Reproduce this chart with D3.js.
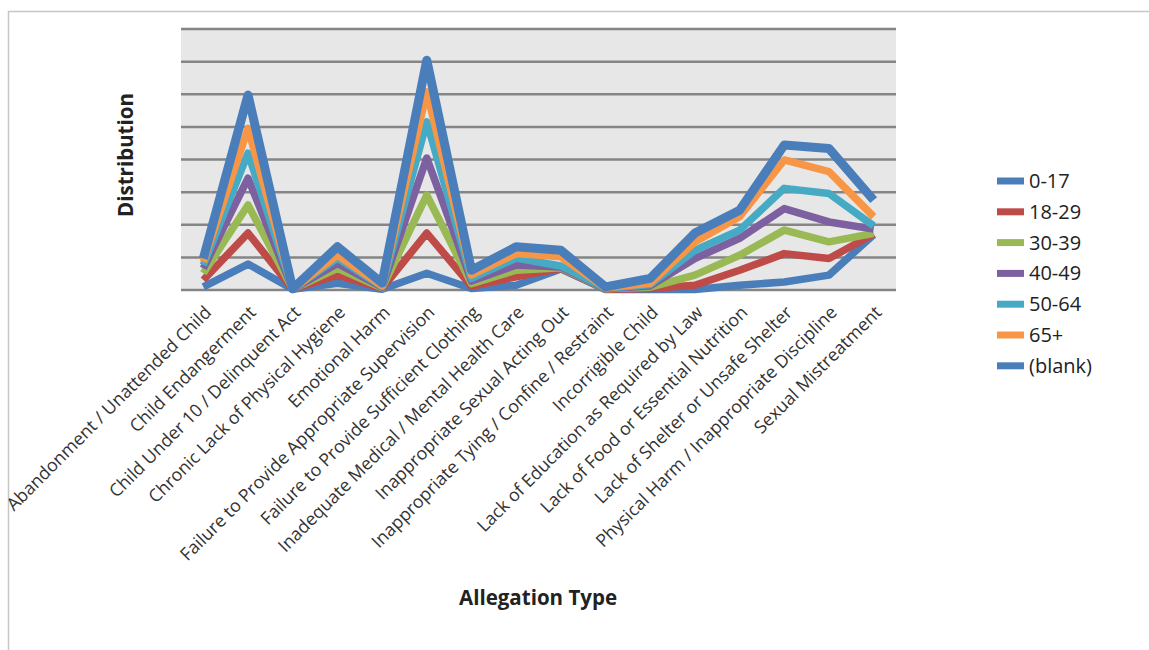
<!DOCTYPE html>
<html>
<head>
<meta charset="utf-8">
<script src="https://cdn.jsdelivr.net/npm/d3@7"></script>
<style>
  body { margin: 0; background: #fff; }
  svg { display: block; font-family: "Open Sans", sans-serif; }
</style>
</head>
<body>
<script>
const W = 1149
const H = 650

// allegation types along the x axis
const categories = [
  'Abandonment / Unattended Child',
  'Child Endangerment',
  'Child Under 10  / Delinquent Act',
  'Chronic Lack of Physical Hygiene',
  'Emotional Harm',
  'Failure to Provide Appropriate Supervision',
  'Failure to Provide Sufficient Clothing',
  'Inadequate Medical / Mental Health Care',
  'Inappropriate Sexual Acting Out',
  'Inappropriate Tying / Confine / Restraint',
  'Incorrigible Child',
  'Lack of Education as Required by Law',
  'Lack of Food or Essential Nutrition',
  'Lack of Shelter or Unsafe Shelter',
  'Physical Harm / Inappropriate Discipline',
  'Sexual Mistreatment'
]

const ageGroups = ['0-17', '18-29', '30-39', '40-49', '50-64', '65+', '(blank)']

// one value per category, per age group (stacked)
const age0_17  = [0.08, 0.78, 0.01, 0.19, 0.01, 0.50, 0.03, 0.13, 0.63, 0.00, 0.00, 0.00, 0.13, 0.23, 0.44, 1.68]
const age18_29 = [0.21, 0.95, 0.00, 0.25, 0.02, 1.23, 0.07, 0.26, 0.02, 0.01, 0.03, 0.13, 0.46, 0.87, 0.51, 0.02]
const age30_39 = [0.21, 0.86, 0.00, 0.21, 0.02, 1.16, 0.08, 0.20, 0.02, 0.01, 0.04, 0.31, 0.46, 0.72, 0.51, 0.02]
const age40_49 = [0.15, 0.82, 0.00, 0.15, 0.02, 1.14, 0.08, 0.16, 0.02, 0.01, 0.04, 0.51, 0.52, 0.66, 0.61, 0.13]
const age50_64 = [0.10, 0.77, 0.00, 0.16, 0.02, 1.11, 0.08, 0.21, 0.03, 0.01, 0.04, 0.25, 0.25, 0.62, 0.87, 0.10]
const age65    = [0.10, 0.76, 0.00, 0.09, 0.02, 0.92, 0.11, 0.14, 0.28, 0.01, 0.04, 0.26, 0.41, 0.87, 0.67, 0.28]
const ageBlank = [0.10, 1.02, 0.01, 0.26, 0.09, 0.97, 0.14, 0.21, 0.20, 0.03, 0.15, 0.27, 0.20, 0.46, 0.71, 0.51]

const seriesValues = [age0_17, age18_29, age30_39, age40_49, age50_64, age65, ageBlank]
const colors = ['#4a7ebb', '#be4b48', '#98b954', '#7d60a0', '#46aac5', '#f79646', '#4a7ebb']

const rows = categories.map((c, i) => {
  const r = { category: c }
  ageGroups.forEach((g, k) => { r[g] = seriesValues[k][i] })
  return r
})

const stacked = d3.stack().keys(ageGroups)(rows)

const plot = { left: 181, right: 896, top: 28.5, bottom: 289.5 }

const x = d3.scaleBand()
  .domain(categories)
  .range([plot.left, plot.right])
const cx = d => x(d) + x.bandwidth() / 2

const y = d3.scaleLinear()
  .domain([0, 8])
  .range([plot.bottom, plot.top])

const svg = d3.select('body').append('svg')
  .attr('width', W)
  .attr('height', H)

// chart frame
svg.append('rect')
  .attr('x', 8.5).attr('y', 11.5)
  .attr('width', W + 10).attr('height', H + 10)
  .attr('fill', 'none')
  .attr('stroke', '#c6c6c6')
  .attr('stroke-width', 1.5)

// plot area background
svg.append('rect')
  .attr('x', plot.left).attr('y', plot.top)
  .attr('width', plot.right - plot.left)
  .attr('height', plot.bottom - plot.top)
  .attr('fill', '#e7e7e7')

// gridlines, no tick labels
svg.append('g')
  .attr('transform', `translate(${plot.left},0)`)
  .call(d3.axisLeft(y).ticks(8).tickSize(-(plot.right - plot.left)).tickFormat(''))
  .call(g => g.select('.domain').remove())
  .selectAll('line')
  .attr('stroke', '#858585')
  .attr('stroke-width', 2.5)

// category labels
svg.append('g')
  .selectAll('text')
  .data(categories)
  .enter().append('text')
  .attr('transform', d => `translate(${cx(d) + 9},${plot.bottom + 24}) rotate(-45)`)
  .attr('text-anchor', 'end')
  .attr('font-size', 17.8)
  .attr('fill', '#333')
  .text(d => d)

// stacked lines
const line = d3.line()
  .x((d, i) => cx(categories[i]))
  .y(d => y(d[1]))

svg.append('g')
  .selectAll('path')
  .data(stacked)
  .enter().append('path')
  .attr('d', line)
  .attr('fill', 'none')
  .attr('stroke', (d, i) => colors[i])
  .attr('stroke-width', (d, i) => i === 6 ? 9 : 7.5)
  .attr('stroke-linejoin', 'round')

// axis titles
svg.append('text')
  .attr('transform', 'translate(133,155) rotate(-90)')
  .attr('text-anchor', 'middle')
  .attr('font-size', 20.5)
  .attr('font-weight', 'bold')
  .attr('fill', '#222')
  .text('Distribution')

svg.append('text')
  .attr('x', 538).attr('y', 605)
  .attr('text-anchor', 'middle')
  .attr('font-size', 20.5)
  .attr('font-weight', 'bold')
  .attr('fill', '#222')
  .text('Allegation Type')

// legend
const legend = svg.append('g')
  .selectAll('g')
  .data(ageGroups)
  .enter().append('g')
  .attr('transform', (d, i) => `translate(997,${181 + i * 30.8})`)

legend.append('line')
  .attr('x1', 0).attr('x2', 27)
  .attr('stroke', (d, i) => colors[i])
  .attr('stroke-width', 7)

legend.append('text')
  .attr('x', 32)
  .attr('dy', '0.35em')
  .attr('font-size', 20)
  .attr('fill', '#222')
  .text(d => d)
</script>
</body>
</html>
